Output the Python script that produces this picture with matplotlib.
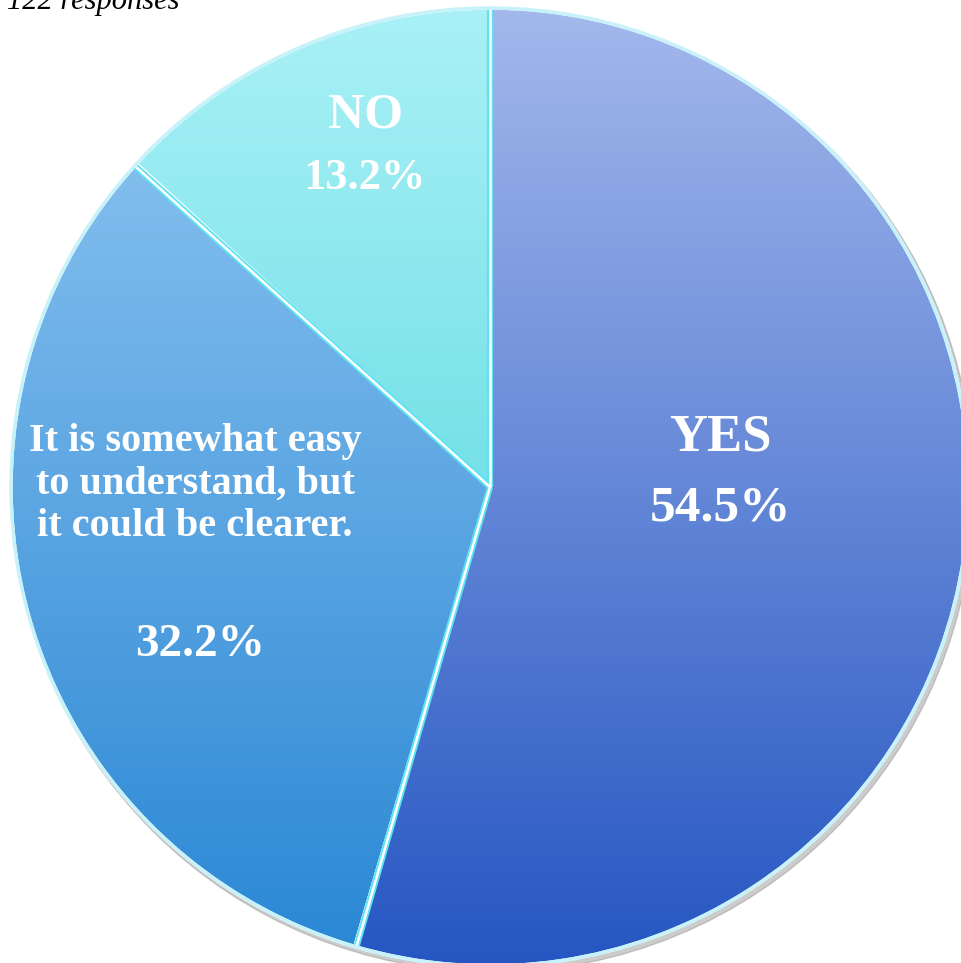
import numpy as np
import matplotlib
matplotlib.use("Agg")
import matplotlib.pyplot as plt
from matplotlib.colors import LinearSegmentedColormap

categories = ["YES", "It is somewhat easy\nto understand, but\nit could be clearer.", "NO"]
values = [54.5, 32.2, 13.2]
pct_labels = ["54.5%", "32.2%", "13.2%"]

top_colors = ["#a3b8ec", "#93c8f2", "#a9f1f6"]
bottom_colors = ["#2556c2", "#2987d4", "#3fd0d8"]

W, H = 961, 963
fig = plt.figure(figsize=(W / 100, H / 100), dpi=100)
ax = fig.add_axes([0, 0, 1, 1])

cx, cy, R = 490, H - 487, 479

# subtle outer shadow
shadow = plt.Circle((cx + 3, cy - 4), R + 2, color="#9a9a9a", alpha=0.5, zorder=0)
ax.add_patch(shadow)

wedges, _ = ax.pie(values, startangle=90, counterclock=False, center=(cx, cy),
                   radius=R, frame=True,
                   wedgeprops=dict(edgecolor="white", linewidth=2.5))
ax.set_xlim(0, W)
ax.set_ylim(0, H)
ax.set_aspect("auto")
ax.axis("off")

for w, tc, bc in zip(wedges, top_colors, bottom_colors):
    w.set_facecolor("none")
    cmap = LinearSegmentedColormap.from_list("g", [tc, bc])
    grad = np.linspace(0, 1, 256).reshape(-1, 1)
    im = ax.imshow(grad, cmap=cmap, aspect="auto",
                   extent=(cx - R, cx + R, cy - R, cy + R), origin="upper", zorder=1)
    im.set_clip_path(w)
    w.set_zorder(2)

# cyan glow along separators
for ang in [90, 90 - values[0] * 3.6, 90 - (values[0] + values[1]) * 3.6]:
    a = np.deg2rad(ang)
    ax.plot([cx, cx + R * np.cos(a)], [cy, cy + R * np.sin(a)], color="#5fe3f3",
            lw=4.5, zorder=2.5, solid_capstyle="butt")
    ax.plot([cx, cx + R * np.cos(a)], [cy, cy + R * np.sin(a)], color="white",
            lw=1.8, zorder=2.6, solid_capstyle="butt")

ring = plt.Circle((cx, cy), R, fill=False, edgecolor="#c8f2fa", lw=2.5, zorder=3)
ax.add_patch(ring)

font = dict(family="Liberation Serif", weight="bold", color="white", ha="center", va="center", zorder=5)

ax.text(720, H - 437, categories[0], fontsize=38, **font)
ax.text(720, H - 508, pct_labels[0], fontsize=37, **font)

ax.text(195, H - 484, categories[1], fontsize=29, linespacing=1.2, **font)
ax.text(200, H - 645, pct_labels[1], fontsize=34, **font)

ax.text(366, H - 115, categories[2], fontsize=36, **font)
ax.text(365, H - 178, pct_labels[2], fontsize=32, **font)

ax.text(7, H - 9, "122 responses", fontsize=22, family="Liberation Serif",
        style="italic", color="black", ha="left", va="baseline", zorder=5)

fig.savefig("out.png", dpi=100, facecolor="white")
